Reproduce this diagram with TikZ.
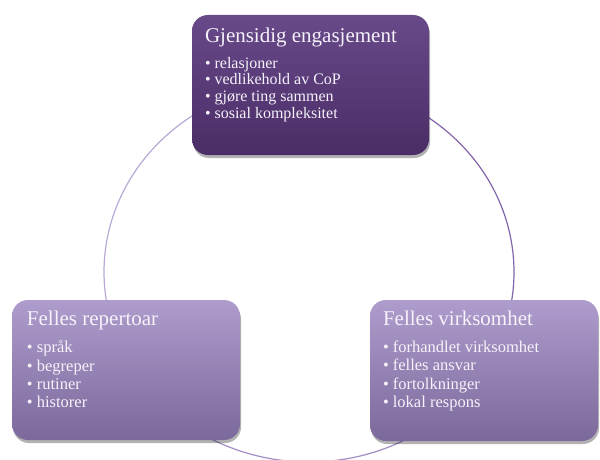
\documentclass[tikz,border=0pt]{standalone}
\usepackage{fontspec}
\setmainfont{Liberation Serif}
\usetikzlibrary{positioning,shadows}

\definecolor{darkTop}{HTML}{684A8A}
\definecolor{darkBot}{HTML}{4A2C66}
\definecolor{lightTop}{HTML}{AD9CCC}
\definecolor{lightBot}{HTML}{7C699C}
\definecolor{arcLight}{HTML}{B8A9D6}
\definecolor{arcMid}{HTML}{A28EC6}
\definecolor{arcDark}{HTML}{8265AA}
\definecolor{boxText}{HTML}{F6F2FA}

\newcommand{\bul}{\textbullet\hspace{0.25em}}

\tikzset{
  cyclebox/.style={rectangle, rounded corners=16pt, inner sep=0pt,
    drop shadow={shadow xshift=1pt, shadow yshift=-3pt, fill=black, opacity=0.3}},
  darkbox/.style={cyclebox, top color=darkTop, bottom color=darkBot},
  lightbox/.style={cyclebox, top color=lightTop, bottom color=lightBot},
  boxtitle/.style={text=boxText, inner sep=0pt, anchor=base west,
    font=\fontsize{21}{24}\selectfont},
  boxlist/.style={text=boxText, inner sep=0pt, anchor=north west, align=left},
  cyclearc/.style={line width=1.2pt}
}

\begin{document}
\begin{tikzpicture}[x=1pt,y=1pt]
  \useasboundingbox[fill=white] (0,0) rectangle (600,459);

  % the cycle behind the boxes
  \coordinate (hub) at (309,187);
  \draw[cyclearc, arcLight] (hub) ++(90:205pt and 190pt)
    arc[start angle=90, end angle=200, x radius=205pt, y radius=190pt];
  \draw[cyclearc, arcMid] (hub) ++(200:205pt and 190pt)
    arc[start angle=200, end angle=340, x radius=205pt, y radius=190pt];
  \draw[cyclearc, arcDark] (hub) ++(340:205pt and 190pt)
    arc[start angle=340, end angle=450, x radius=205pt, y radius=190pt];

  % boxes
  \node[darkbox, minimum width=237pt, minimum height=140pt] (engage) at (310.5,374) {};
  \node[lightbox, minimum width=228pt, minimum height=140pt] (repert) at (126,89) {};
  \node[lightbox, minimum width=228pt, minimum height=141pt] (enterp) at (484,88.5) {};

  % Gjensidig engasjement
  \node[boxtitle] (engageT) at ([shift={(13,-28)}]engage.north west) {Gjensidig engasjement};
  \node[boxlist, font=\fontsize{16}{16.7}\selectfont] (engageL)
    at ([shift={(0,-14)}]engageT.base west)
    {\bul relasjoner\\ \bul vedlikehold av CoP\\ \bul gjøre ting sammen\\ \bul sosial kompleksitet};

  % Felles repertoar
  \node[boxtitle] (repertT) at ([shift={(15,-26)}]repert.north west) {Felles repertoar};
  \node[boxlist, font=\fontsize{16.5}{18.3}\selectfont] (repertL)
    at ([shift={(0,-15)}]repertT.base west)
    {\bul språk\\ \bul begreper\\ \bul rutiner\\ \bul historer};

  % Felles virksomhet
  \node[boxtitle] (enterpT) at ([shift={(13,-26)}]enterp.north west) {Felles virksomhet};
  \node[boxlist, font=\fontsize{16.5}{18.3}\selectfont] (enterpL)
    at ([shift={(0,-15)}]enterpT.base west)
    {\bul forhandlet virksomhet\\ \bul felles ansvar\\ \bul fortolkninger\\ \bul lokal respons};
\end{tikzpicture}
\end{document}
